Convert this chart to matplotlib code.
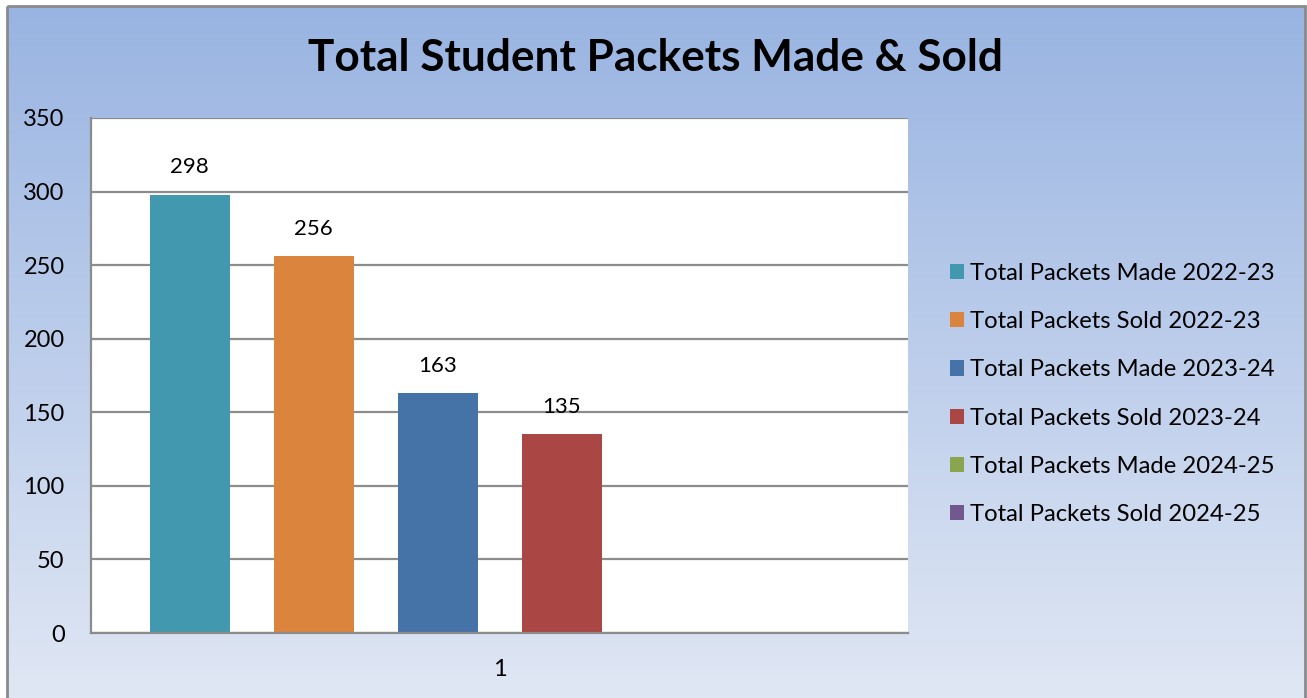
import numpy as np
import matplotlib.pyplot as plt
from matplotlib.patches import Rectangle, Patch

plt.rcParams['font.family'] = ['Lato', 'DejaVu Sans']

# packet totals per school year (2024-25 has no data yet)
series_names = ['Total Packets Made 2022-23', 'Total Packets Sold 2022-23',
                'Total Packets Made 2023-24', 'Total Packets Sold 2023-24',
                'Total Packets Made 2024-25', 'Total Packets Sold 2024-25']
values = [298, 256, 163, 135, np.nan, np.nan]
colors = ['#4298AF', '#DB843D', '#4572A7', '#AA4643', '#89A54E', '#71588F']
categories = ['1']

W, H = 1307, 698
fig = plt.figure(figsize=(W / 100, H / 100), dpi=100)
fig.patch.set_facecolor('white')

# gradient backdrop inside the chart frame
bg = fig.add_axes([0, 0, 1, 1], zorder=-10)
bg.set_xlim(0, W)
bg.set_ylim(H, 0)
bg.axis('off')
top = np.array([0x99, 0xB4, 0xE2]) / 255
bot = np.array([0xE0, 0xE7, 0xF4]) / 255
t = np.linspace(0, 1, 256)[:, None]
grad = (top[None, :] * (1 - t) + bot[None, :] * t)[:, None, :]
bg.imshow(grad, extent=(7, 1305, H, 6), aspect='auto', interpolation='bilinear')
bg.add_patch(Rectangle((7, 6), 1298, H, fill=False, edgecolor='#8a8a8a', lw=2))

ax = fig.add_axes([91 / W, (H - 633) / H, 817 / W, 515 / H])
ax.set_facecolor('white')

step = 124 / 817
width = 80 / 817
x0 = np.arange(len(categories)) + 1
for i, (name, v, c) in enumerate(zip(series_names, values, colors)):
    xpos = x0 + (i - 2.5) * step
    ax.bar(xpos, [v], width=width, color=c, label=name, zorder=3)
    if not np.isnan(v):
        ax.annotate(f'{v:.0f}', (xpos[0], v), xytext=(0, 19.5),
                    textcoords='offset points', ha='center', va='center',
                    fontsize=16)

ax.set_xlim(0.5, 1.5)
ax.set_ylim(0, 350)
ax.set_yticks(np.arange(0, 351, 50))
ax.set_xticks(x0)
ax.set_xticklabels(categories)
ax.tick_params(axis='y', length=0, pad=19, labelsize=17)
ax.tick_params(axis='x', length=0, pad=19, labelsize=17)
ax.grid(axis='y', color='#8c8c8c', lw=1.6, zorder=1)
for s in ['top', 'right']:
    ax.spines[s].set_visible(False)
for s in ['left', 'bottom']:
    ax.spines[s].set_color('#8c8c8c')
    ax.spines[s].set_linewidth(1.6)
    ax.spines[s].set_zorder(4)

fig.text(655 / W, 1 - 58 / H, 'Total Student Packets Made & Sold',
         ha='center', va='center', fontsize=31.8, fontweight='bold')

handles = [Patch(facecolor=c, edgecolor='none') for c in colors]
fig.legend(handles, series_names, loc='center left',
           bbox_to_anchor=(938 / W, 1 - 394 / H), frameon=False,
           fontsize=17.2, handlelength=0.6, handleheight=0.6,
           handletextpad=0.25, labelspacing=1.14, borderpad=0)

fig.savefig('out.png', dpi=100)
